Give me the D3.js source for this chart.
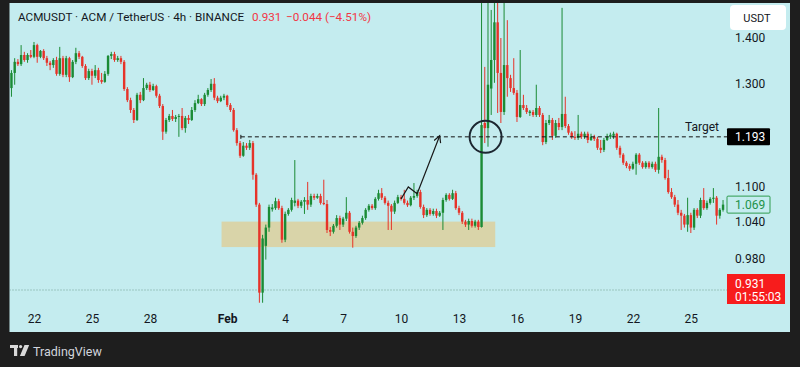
<!DOCTYPE html>
<html><head><meta charset="utf-8">
<script src="https://cdn.jsdelivr.net/npm/d3@7"></script>
<style>html,body{margin:0;padding:0;background:#1e1e1e;overflow:hidden}svg{display:block;font-family:Roboto,"Noto Sans",sans-serif}</style>
</head><body>
<svg id="c" width="800" height="367"></svg>
<script>
// ---- DATA (4h candles, ACMUSDT) ----
const startTime = new Date(Date.UTC(2024,0,20,20)); // first visible candle
const opens = [
1.291,1.323,1.347,1.342,1.362,1.351,1.362,1.358,1.384,1.358,
1.371,1.355,1.345,1.340,1.351,1.321,1.355,1.319,1.355,1.314,
1.347,1.366,1.358,1.338,1.312,1.327,1.317,1.329,1.308,1.304,
1.321,1.360,1.364,1.351,1.355,1.347,1.289,1.266,1.246,1.226,
1.277,1.266,1.291,1.298,1.287,1.295,1.275,1.254,1.203,1.226,
1.234,1.228,1.232,1.234,1.210,1.230,1.226,1.246,1.260,
1.268,1.258,1.277,1.287,1.300,1.271,1.264,1.271,1.275,1.256,
1.246,1.206,1.181,1.157,1.176,1.172,1.181,1.122,1.069,0.927,
1.000,1.030,1.061,1.063,1.075,1.063,1.010,1.053,1.060,1.072,
1.076,1.067,1.074,1.077,1.069,1.084,1.081,1.084,1.072,1.070,
1.026,1.023,1.033,1.046,1.035,1.045,1.055,1.023,1.016,1.030,
1.038,1.046,1.060,1.067,1.063,1.079,1.089,1.081,1.072,1.067,
1.057,1.072,1.082,1.079,1.072,1.068,1.081,1.084,1.091,
1.065,1.051,1.060,1.053,1.058,1.050,1.055,1.077,1.086,1.079,
1.089,1.063,1.055,1.040,1.035,1.041,1.033,1.040,1.031,1.220,
1.210,1.290,1.351,1.436,1.323,1.242,1.340,1.312,1.291,1.281,
1.232,1.256,1.250,1.240,1.242,1.236,1.250,1.236,1.183,1.220,
1.226,1.195,1.220,1.212,1.238,1.214,1.201,1.193,1.191,1.199,
1.193,1.199,1.187,1.193,1.189,1.172,1.168,1.187,1.193,1.195,
1.199,1.172,1.159,1.144,1.138,1.133,1.142,1.159,1.144,1.136,
1.144,1.136,1.142,1.131,1.155,1.149,1.116,1.091,1.082,1.069,
1.055,1.050,1.035,1.051,1.030,1.060,1.050,1.077,1.063,1.072,
1.079,1.081,1.050,1.060];
const closes = [
1.323,1.347,1.342,1.362,1.351,1.362,1.358,1.384,1.358,1.371,
1.355,1.345,1.340,1.351,1.321,1.355,1.319,1.355,1.314,1.347,
1.366,1.358,1.338,1.312,1.327,1.317,1.329,1.308,1.304,1.321,
1.360,1.364,1.351,1.355,1.347,1.289,1.266,1.246,1.226,1.277,
1.266,1.291,1.298,1.287,1.295,1.275,1.254,1.203,1.226,1.234,
1.228,1.232,1.234,1.210,1.230,1.226,1.246,1.260,1.268,
1.258,1.277,1.287,1.300,1.271,1.264,1.271,1.275,1.256,1.246,
1.206,1.181,1.157,1.176,1.172,1.181,1.122,1.069,0.927,1.012,
1.030,1.065,1.064,1.075,1.063,1.010,1.053,1.060,1.077,1.076,
1.067,1.074,1.077,1.069,1.084,1.081,1.084,1.072,1.070,1.026,
1.023,1.033,1.046,1.035,1.045,1.055,1.023,1.016,1.030,1.038,
1.046,1.060,1.067,1.063,1.079,1.089,1.081,1.072,1.067,1.057,
1.072,1.082,1.079,1.072,1.068,1.081,1.084,1.091,1.065,
1.051,1.060,1.053,1.058,1.050,1.055,1.077,1.086,1.079,1.089,
1.063,1.055,1.040,1.035,1.041,1.033,1.040,1.031,1.216,1.210,
1.298,1.351,1.436,1.323,1.242,1.340,1.312,1.291,1.281,1.232,
1.256,1.250,1.242,1.243,1.236,1.250,1.236,1.183,1.220,1.226,
1.195,1.220,1.212,1.238,1.214,1.201,1.193,1.191,1.199,1.193,
1.199,1.187,1.193,1.189,1.172,1.168,1.187,1.193,1.197,1.199,
1.172,1.159,1.144,1.138,1.133,1.142,1.159,1.144,1.136,1.144,
1.136,1.142,1.131,1.155,1.149,1.116,1.091,1.082,1.069,1.055,
1.050,1.035,1.051,1.030,1.060,1.050,1.077,1.063,1.072,1.079,
1.081,1.050,1.060,1.069];
const highs = [
1.329,1.355,1.353,1.384,1.369,1.366,1.373,1.391,1.387,1.373,
1.375,1.360,1.349,1.355,1.358,1.380,1.360,1.360,1.358,1.351,
1.378,1.371,1.360,1.342,1.332,1.332,1.340,1.334,1.323,1.327,
1.362,1.369,1.369,1.360,1.360,1.351,1.293,1.271,1.250,1.281,
1.283,1.312,1.302,1.304,1.300,1.298,1.279,1.258,1.230,1.238,
1.246,1.236,1.238,1.250,1.234,1.236,1.252,1.266,1.277,
1.270,1.281,1.291,1.310,1.312,1.275,1.275,1.279,1.277,1.260,
1.250,1.210,1.185,1.183,1.181,1.187,1.185,1.125,1.072,1.018,
1.035,1.069,1.070,1.081,1.079,1.067,1.057,1.063,1.081,1.149,
1.079,1.077,1.082,1.109,1.088,1.088,1.088,1.088,1.113,1.077,
1.031,1.036,1.051,1.050,1.048,1.082,1.058,1.030,1.033,1.041,
1.050,1.063,1.070,1.070,1.082,1.095,1.098,1.084,1.076,1.070,
1.076,1.086,1.086,1.095,1.076,1.084,1.107,1.095,1.095,
1.069,1.063,1.063,1.062,1.062,1.058,1.081,1.089,1.089,1.095,
1.093,1.067,1.058,1.043,1.045,1.045,1.043,1.043,1.520,1.336,
1.510,1.465,1.510,1.510,1.400,1.510,1.441,1.319,1.355,1.287,
1.373,1.277,1.256,1.246,1.246,1.298,1.254,1.240,1.226,1.236,
1.230,1.226,1.230,1.470,1.273,1.218,1.204,1.204,1.236,1.203,
1.203,1.203,1.199,1.197,1.193,1.187,1.191,1.199,1.201,1.203,
1.201,1.176,1.162,1.147,1.142,1.146,1.162,1.162,1.147,1.147,
1.147,1.146,1.146,1.250,1.159,1.153,1.131,1.098,1.086,1.077,
1.060,1.053,1.081,1.055,1.063,1.063,1.081,1.098,1.076,1.082,
1.098,1.084,1.063,1.077];
const lows = [
1.273,1.298,1.338,1.338,1.347,1.345,1.355,1.355,1.345,1.355,
1.351,1.338,1.329,1.334,1.317,1.317,1.314,1.314,1.304,1.312,
1.342,1.353,1.334,1.308,1.308,1.298,1.312,1.302,1.300,1.302,
1.317,1.353,1.347,1.347,1.342,1.285,1.262,1.240,1.220,1.224,
1.260,1.264,1.287,1.283,1.285,1.271,1.250,1.187,1.199,1.222,
1.224,1.222,1.193,1.206,1.201,1.218,1.224,1.242,1.258,
1.254,1.254,1.273,1.283,1.266,1.260,1.262,1.266,1.252,1.242,
1.203,1.176,1.153,1.155,1.168,1.168,1.113,1.065,0.912,0.912,
0.978,1.023,1.057,1.060,1.060,1.005,1.006,1.050,1.057,1.066,
1.063,1.063,1.053,1.060,1.065,1.077,1.079,1.069,1.068,1.021,
1.016,1.020,1.030,1.026,1.031,1.041,1.020,0.997,1.013,1.026,
1.035,1.043,1.057,1.060,1.060,1.076,1.077,1.069,1.026,1.026,
1.053,1.070,1.076,1.069,1.065,1.066,1.077,1.081,1.062,
1.046,1.048,1.050,1.050,1.046,1.048,1.026,1.074,1.076,1.077,
1.060,1.051,1.036,1.031,1.026,1.030,1.030,1.026,1.030,1.181,
1.174,1.236,1.302,1.240,1.220,1.236,1.273,1.283,1.277,1.222,
1.230,1.246,1.238,1.234,1.232,1.232,1.232,1.177,1.179,1.216,
1.187,1.191,1.206,1.206,1.210,1.197,1.189,1.187,1.187,1.189,
1.189,1.181,1.185,1.185,1.168,1.162,1.164,1.185,1.189,1.189,
1.168,1.153,1.140,1.134,1.129,1.131,1.122,1.140,1.133,1.133,
1.133,1.133,1.127,1.124,1.144,1.113,1.088,1.079,1.065,1.051,
1.026,1.030,1.023,1.021,1.026,1.046,1.046,1.060,1.060,1.069,
1.072,1.035,1.045,1.057];

const yTicks = [0.980, 1.040, 1.100, 1.300, 1.400];
const xTickDates = ["2024-01-22","2024-01-25","2024-01-28","2024-02-01","2024-02-04","2024-02-07",
  "2024-02-10","2024-02-13","2024-02-16","2024-02-19","2024-02-22","2024-02-25"];
const xTickLabels = ["22","25","28","Feb","4","7","10","13","16","19","22","25"];

const targetPrice = 1.193;
const lastPrice = 0.931;
const lastClose = 1.069;
const supportZone = {from:"2024-01-31T17:00Z", to:"2024-02-14T21:00Z", top:1.040, bottom:0.998};
const targetStart = "2024-02-01T17:00Z";
const arrowTimes = ["2024-02-10T00:00Z","2024-02-10T09:00Z","2024-02-10T20:00Z","2024-02-12T00:00Z"];
const arrowPrices = [1.079, 1.100, 1.088, 1.195];
const circleAt = {t:"2024-02-14T09:00Z", p:1.193};

// ---- LAYOUT ----
const W=800,H=367;
const svg=d3.select('#c');
svg.append('rect').attr('width',W).attr('height',H).attr('fill','#1e1e1e');
const panel={x0:9.5,x1:790,y0:3,y1:332};
svg.append('rect').attr('x',panel.x0).attr('y',panel.y0).attr('width',panel.x1-panel.x0)
  .attr('height',panel.y1-panel.y0).attr('fill','#c4ecef');
const plot={x0:9.5,x1:727,y0:3,y1:304};

const x=d3.scaleUtc().domain([new Date(Date.UTC(2024,0,20)),new Date(Date.UTC(2024,1,28))]).range([-4.64,748.8]);
const y=d3.scaleLog().domain([0.931,1.4]).range([290,38]);

const defs=svg.append('defs');
defs.append('clipPath').attr('id','clip').append('rect')
  .attr('x',plot.x0).attr('y',plot.y0).attr('width',plot.x1-plot.x0).attr('height',plot.y1-plot.y0);
defs.append('marker').attr('id','ah').attr('markerUnits','userSpaceOnUse')
  .attr('markerWidth',10).attr('markerHeight',10).attr('refX',7).attr('refY',4).attr('orient','auto')
  .append('path').attr('d','M0.5,0.5 L7,4 L0.5,7.5').attr('fill','none').attr('stroke','#1a1a1a').attr('stroke-width',1.2);

const g=svg.append('g').attr('clip-path','url(#clip)');

// support zone
g.append('rect')
  .attr('x',x(new Date(supportZone.from))).attr('y',y(supportZone.top))
  .attr('width',x(new Date(supportZone.to))-x(new Date(supportZone.from)))
  .attr('height',y(supportZone.bottom)-y(supportZone.top))
  .attr('fill','#d9d4a9');

// last price dotted line
g.append('line').attr('x1',plot.x0).attr('x2',plot.x1).attr('y1',y(lastPrice)).attr('y2',y(lastPrice))
  .attr('stroke','#5d8f79').attr('stroke-width',1).attr('stroke-dasharray','1,2').attr('opacity',0.8);

// candles
const candles=opens.map((o,i)=>({t:d3.utcHour.offset(startTime,4*i),o,c:closes[i],h:highs[i],l:lows[i]}));
const up='#1b8b35', dn='#e63329';
const cg=g.append('g');
cg.selectAll('line.w').data(candles).join('line').attr('class','w')
  .attr('x1',d=>x(d.t)).attr('x2',d=>x(d.t)).attr('y1',d=>y(d.h)).attr('y2',d=>y(d.l))
  .attr('stroke',d=>d.c>=d.o?up:dn).attr('stroke-width',1);
cg.selectAll('rect.b').data(candles).join('rect').attr('class','b')
  .attr('x',d=>x(d.t)-1.2).attr('width',2.4)
  .attr('y',d=>y(Math.max(d.o,d.c)))
  .attr('height',d=>Math.max(1,Math.abs(y(d.o)-y(d.c))))
  .attr('fill',d=>d.c>=d.o?up:dn);

// target dashed line
g.append('line').attr('x1',x(new Date(targetStart))).attr('x2',plot.x1)
  .attr('y1',y(targetPrice)).attr('y2',y(targetPrice))
  .attr('stroke','#111').attr('stroke-width',1).attr('stroke-dasharray','4,3');
g.append('line').attr('x1',x(new Date(targetStart))).attr('x2',x(new Date(targetStart)))
  .attr('y1',y(targetPrice)-2).attr('y2',y(targetPrice)+2).attr('stroke','#111');

// arrow
const line=d3.line().x(d=>x(new Date(d[0]))).y(d=>y(d[1]));
g.append('path').datum(arrowTimes.map((t,i)=>[t,arrowPrices[i]])).attr('d',line)
  .attr('fill','none').attr('stroke','#1a1a1a').attr('stroke-width',1.2).attr('marker-end','url(#ah)');

// circle
g.append('circle').attr('cx',x(new Date(circleAt.t))).attr('cy',y(circleAt.p)).attr('r',16)
  .attr('fill','none').attr('stroke','#1d2731').attr('stroke-width',2);

// Target text
svg.append('text').attr('x',x(new Date("2024-02-26T11:00Z"))).attr('y',y(targetPrice)-6)
  .attr('text-anchor','end').attr('font-size',12).attr('fill','#131722').text('Target');

// y axis
const ya=svg.append('g').attr('transform',`translate(732,0)`)
  .call(d3.axisRight(y).tickValues(yTicks).tickFormat(d3.format('.3f')).tickSize(0).tickPadding(3));
ya.select('.domain').remove();
ya.selectAll('text').attr('font-size',12).attr('fill','#131722').attr('font-family','Roboto,sans-serif');

// x axis
const xa=svg.append('g').attr('transform',`translate(0,${plot.y1})`)
  .call(d3.axisBottom(x).tickValues(xTickDates.map(s=>new Date(s+"T00:00Z")))
  .tickFormat((d,i)=>xTickLabels[i]).tickSize(0).tickPadding(10.5));
xa.select('.domain').remove();
xa.selectAll('text').attr('font-size',12).attr('fill','#131722').attr('font-family','Roboto,sans-serif')
  .attr('font-weight',(d,i)=>xTickLabels[i]==='Feb'?'bold':'normal');

// price labels
function priceBox(p,fill,stroke,txtColor,label){
  const cy=y(p);
  svg.append('rect').attr('x',727).attr('y',cy-8.5).attr('width',43).attr('height',17)
    .attr('fill',fill).attr('stroke',stroke||'none').attr('rx',1);
  svg.append('text').attr('x',735).attr('y',cy+4.3).attr('font-size',12).attr('fill',txtColor).text(label);
}
priceBox(targetPrice,'#000',null,'#fff',d3.format('.3f')(targetPrice));
priceBox(lastClose,'#c4ecef','#2e9b4e','#22924a',d3.format('.3f')(lastClose));
svg.append('rect').attr('x',727).attr('y',274).attr('width',58).attr('height',30).attr('fill','#f71c1c');
svg.append('text').attr('x',735).attr('y',288).attr('font-size',12).attr('fill','#fff').text(d3.format('.3f')(lastPrice));
svg.append('text').attr('x',735).attr('y',300.5).attr('font-size',12).attr('fill','#fff').text('01:55:03');

// USDT
svg.append('rect').attr('x',730).attr('y',5).attr('width',56).attr('height',25).attr('rx',4).attr('fill','#fff');
svg.append('text').attr('x',757).attr('y',22).attr('text-anchor','middle').attr('font-size',11).attr('fill','#131722').text('USDT');

// header
svg.append('text').attr('x',18).attr('y',21).attr('font-size',11.7).attr('fill','#131722')
  .text('ACMUSDT · ACM / TetherUS · 4h · BINANCE');
svg.append('text').attr('x',252).attr('y',21).attr('font-size',11.7).attr('fill','#f23645').text('0.931');
svg.append('text').attr('x',286).attr('y',21).attr('font-size',11.7).attr('fill','#f23645').text('−0.044 (−4.51%)');

// TradingView logo
const lg=svg.append('g').attr('fill','#d9d9d9');
lg.append('rect').attr('x',10).attr('y',345).attr('width',8).attr('height',3);
lg.append('rect').attr('x',14).attr('y',345).attr('width',3.2).attr('height',11);
lg.append('circle').attr('cx',20.6).attr('cy',346.6).attr('r',1.6);
lg.append('polygon').attr('points','24.5,345 29.2,345 24.6,356 19.9,356');
svg.append('text').attr('x',33).attr('y',356).attr('font-size',12.5).attr('fill','#d1d4dc').text('TradingView');
</script>
</body></html>
